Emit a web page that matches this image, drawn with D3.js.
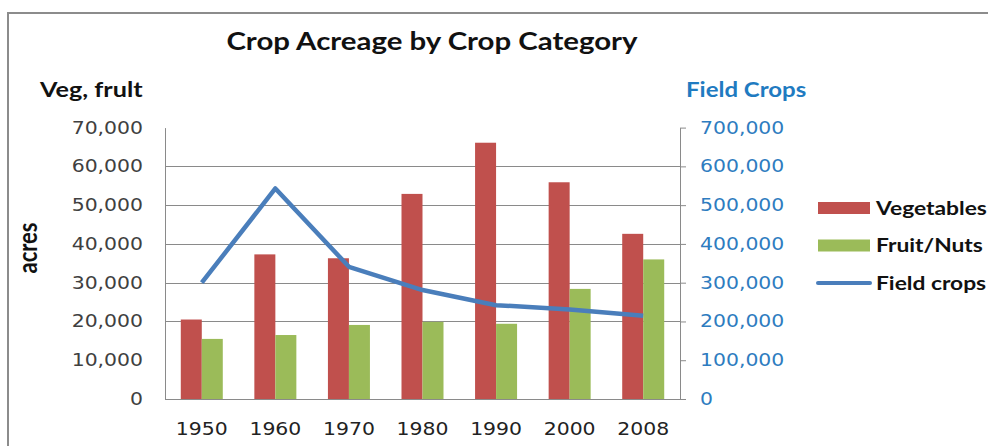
<!DOCTYPE html>
<html>
<head>
<meta charset="utf-8">
<script src="https://cdn.jsdelivr.net/npm/d3@7"></script>
<style>
  body { margin: 0; background: #fff; }
  svg text { font-family: Lato, "Open Sans", sans-serif; }
</style>
</head>
<body>
<svg id="chart" width="988" height="446"></svg>
<script>
'use strict';

var years      = ['1950', '1960', '1970', '1980', '1990', '2000', '2008']
  , vegetables = [20500, 37300, 36300, 52900, 66100, 55900, 42600]
  , fruitNuts  = [15500, 16500, 19100, 19900, 19400, 28400, 36000]
  , fieldCrops = [300000, 543000, 341000, 281000, 242000, 231000, 215000]
  , leftTicks  = [0, 10000, 20000, 30000, 40000, 50000, 60000, 70000]
  , rightTicks = [0, 100000, 200000, 300000, 400000, 500000, 600000, 700000]
  , legendItems = [
      { name: 'Vegetables',  kind: 'bar',  color: '#c0504d' },
      { name: 'Fruit/Nuts',  kind: 'bar',  color: '#9bbb59' },
      { name: 'Field crops', kind: 'line', color: '#4a7ebb' }
    ];

var svg = d3.select('#chart')
  , plotLeft = 165, plotRight = 680, plotTop = 127.6, plotBottom = 399
  , sx = 1.2   // the original is drawn slightly wide
  , fmt = d3.format(',');

// widen text horizontally, keeping its anchor where it was
function stretch(sel){
  sel.each(function(){
    var t = d3.select(this), x0 = +t.attr('x') || 0;
    t.attr('x', x0 / sx).attr('transform', 'scale(' + sx + ',1)');
  });
}

function label(x0, y0, txt, size, color, rotate){
  return svg.append('text')
    .attr('transform', 'translate(' + x0 + ',' + y0 + ') scale(' + sx + ',1)' + (rotate ? ' rotate(-90)' : ''))
    .style('font-size', size + 'px').style('font-weight', 'bold')
    .attr('fill', color)
    .text(txt);
}

// outer frame
svg.append('path')
   .attr('d', 'M8,446 L8,13 L988,13')
   .attr('fill', 'none')
   .attr('stroke', '#8c8c8c')
   .attr('stroke-width', 2);

var x = d3.scaleBand().domain(years).range([plotLeft, plotRight])
  , yL = d3.scaleLinear().domain([0, 70000]).range([plotBottom, plotTop])
  , yR = d3.scaleLinear().domain([0, 700000]).range([plotBottom, plotTop])
  , sub = d3.scaleBand().domain([0, 1]).range([0, 42]);

// gridlines (only 20k-60k show in the original)
svg.append('g').selectAll('line')
   .data(leftTicks.filter(function(d){ return d >= 20000 && d <= 60000; }))
   .join('line')
   .attr('x1', plotLeft).attr('x2', plotRight)
   .attr('y1', function(d){ return Math.round(yL(d)) + 0.5; })
   .attr('y2', function(d){ return Math.round(yL(d)) + 0.5; })
   .attr('stroke', '#8a8a8a').attr('stroke-width', 1);

// bars
var bw = x.bandwidth();
[vegetables, fruitNuts].forEach(function(series, i){
  svg.append('g').selectAll('rect')
     .data(series)
     .join('rect')
     .attr('x', function(d, j){ return x(years[j]) + (bw - 42) / 2 + sub(i); })
     .attr('width', sub.bandwidth())
     .attr('y', function(d){ return yL(d); })
     .attr('height', function(d){ return plotBottom - yL(d); })
     .attr('fill', legendItems[i].color);
});

// left axis
var gl = svg.append('g').attr('transform', 'translate(' + plotLeft + ',0)')
  .call(d3.axisLeft(yL).tickValues(leftTicks).tickFormat(fmt).tickSize(0).tickPadding(22));
gl.select('.domain').attr('stroke', '#8a8a8a');
gl.selectAll('text').attr('fill', '#404040').style('font-family', '"DejaVu Sans", Verdana, sans-serif')
  .style('font-size', '17px').call(stretch);

// right axis
var gr = svg.append('g').attr('transform', 'translate(' + plotRight + ',0)')
  .call(d3.axisRight(yR).tickValues(rightTicks).tickFormat(fmt).tickSize(6).tickSizeOuter(0).tickPadding(14));
gr.select('.domain').attr('stroke', '#8a8a8a');
gr.selectAll('line').attr('stroke', '#8a8a8a');
gr.selectAll('text').attr('fill', '#2e7cc0').style('font-family', '"DejaVu Sans", Verdana, sans-serif')
  .style('font-size', '17px').call(stretch);

// x axis
var gx = svg.append('g').attr('transform', 'translate(0,' + plotBottom + ')')
  .call(d3.axisBottom(x).tickSize(0).tickPadding(24));
gx.select('.domain').attr('stroke', '#8a8a8a').attr('d', 'M' + plotLeft + ',0.5H' + plotRight);
gx.selectAll('text').attr('fill', '#222').style('font-family', '"DejaVu Sans", Verdana, sans-serif')
  .style('font-size', '17px').call(stretch);

// field crops line
svg.append('path')
   .datum(fieldCrops)
   .attr('fill', 'none')
   .attr('stroke', legendItems[2].color)
   .attr('stroke-width', 4.5)
   .attr('stroke-linejoin', 'round')
   .attr('d', d3.line()
     .x(function(d, i){ return x(years[i]) + bw / 2; })
     .y(function(d){ return yR(d); }));

// titles
label(432, 50, 'Crop Acreage by Crop Category', 24.5, '#111').attr('text-anchor', 'middle');
label(40, 97, 'Veg, frult', 21, '#111');
label(686, 97, 'Field Crops', 20, '#1f7bc1');
label(37, 248, 'acres', 22, '#111', true).attr('text-anchor', 'middle');

// legend
var lg = svg.append('g').selectAll('g')
  .data(legendItems)
  .join('g')
  .attr('transform', function(d, i){ return 'translate(818,' + (208 + i * 37.5) + ')'; });
lg.filter(function(d){ return d.kind === 'bar'; }).append('rect')
  .attr('x', 0).attr('y', -6).attr('width', 52).attr('height', 12)
  .attr('fill', function(d){ return d.color; });
lg.filter(function(d){ return d.kind === 'line'; }).append('line')
  .attr('x1', 0).attr('x2', 52).attr('y1', 0).attr('y2', 0)
  .attr('stroke', function(d){ return d.color; }).attr('stroke-width', 4).attr('stroke-linecap', 'round');
lg.append('text').attr('x', 58).attr('dy', '0.35em')
  .style('font-size', '19px').style('font-weight', 'bold').attr('fill', '#111')
  .text(function(d){ return d.name; })
  .call(stretch);
</script>
</body>
</html>
